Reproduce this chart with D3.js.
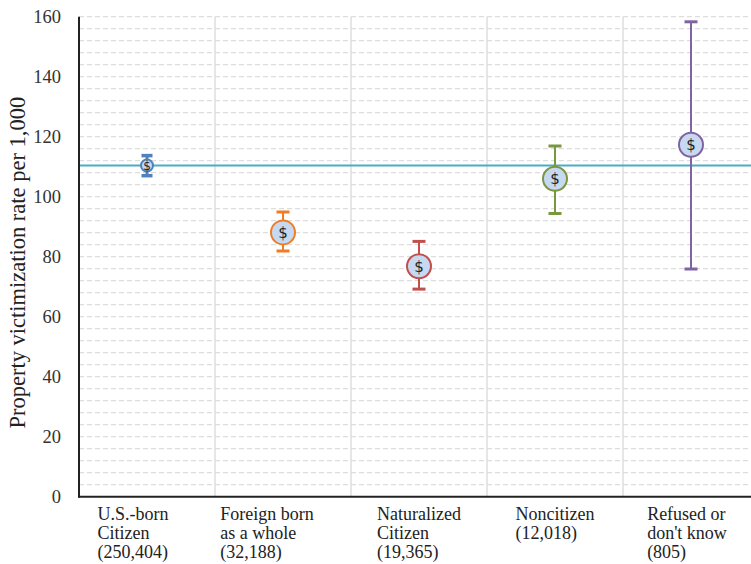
<!DOCTYPE html>
<html>
<head>
<meta charset="utf-8">
<script src="https://cdn.jsdelivr.net/npm/d3@7"></script>
<style>
  html, body { margin: 0; padding: 0; background: #fff; }
  svg { display: block; }
</style>
</head>
<body>
<svg id="chart" width="751" height="564"></svg>
<script>
// Groups (respondent citizenship status) with sample sizes
const categories = ["U.S.-born Citizen", "Foreign born as a whole", "Naturalized Citizen", "Noncitizen", "Refused or don't know"];
const labelLines = [
  ["U.S.-born", "Citizen", "(250,404)"],
  ["Foreign born", "as a whole", "(32,188)"],
  ["Naturalized", "Citizen", "(19,365)"],
  ["Noncitizen", "(12,018)"],
  ["Refused or", "don't know", "(805)"]
];
// Property victimization rate per 1,000 with confidence bounds
const rates = [110.4, 88.1, 76.8, 106.0, 117.3];
const lower = [107.0, 81.9, 69.2, 94.4, 75.9];
const upper = [113.7, 94.9, 85.1, 116.9, 158.3];
const colors = ["#4f81bd", "#ee7d28", "#c0504d", "#79973f", "#8064a2"];
// Reference line: U.S.-born rate
const referenceRate = 110.4;
const yTicks = [0, 20, 40, 60, 80, 100, 120, 140, 160];
const gridStep = 4;

(function draw() {
  const svg = d3.select("#chart");
  const plotLeft = 79, plotTop = 16.7, plotBottom = 496.7, plotRight = 759;
  const serif = "'Liberation Serif', 'Times New Roman', serif";

  const x = d3.scaleBand().domain(categories).range([plotLeft, plotRight]).paddingInner(0).paddingOuter(0);
  const y = d3.scaleLinear().domain([0, 160]).range([plotBottom, plotTop]);

  // Dashed horizontal gridlines every 4 units
  const gridVals = d3.range(gridStep, 160 + gridStep / 2, gridStep);
  svg.append("g").selectAll("line").data(gridVals).join("line")
    .attr("x1", plotLeft).attr("x2", plotRight)
    .attr("y1", d => y(d)).attr("y2", d => y(d))
    .attr("stroke", "#d6d6d6").attr("stroke-width", 1)
    .attr("stroke-dasharray", "5,3");

  // Vertical category separators
  svg.append("g").selectAll("line").data(categories.slice(1)).join("line")
    .attr("x1", d => x(d)).attr("x2", d => x(d))
    .attr("y1", y(160)).attr("y2", y(0))
    .attr("stroke", "#d9d9d9").attr("stroke-width", 1.3);

  // Reference line
  svg.append("line")
    .attr("x1", plotLeft).attr("x2", plotRight)
    .attr("y1", y(referenceRate)).attr("y2", y(referenceRate))
    .attr("stroke", "#4bacc6").attr("stroke-width", 2);

  // Axis lines
  svg.append("line").attr("x1", plotLeft).attr("x2", plotLeft).attr("y1", y(160)).attr("y2", y(0) + 1)
    .attr("stroke", "#222").attr("stroke-width", 2);
  svg.append("line").attr("x1", plotLeft - 1).attr("x2", plotRight).attr("y1", y(0)).attr("y2", y(0))
    .attr("stroke", "#222").attr("stroke-width", 2);

  // Y tick labels
  const yAxis = d3.axisLeft(y).tickValues(yTicks).tickSize(0).tickPadding(18);
  const gy = svg.append("g").attr("transform", `translate(${plotLeft},0)`).call(yAxis)
    .attr("font-family", serif).attr("font-size", 18.5);
  gy.select(".domain").remove();
  gy.selectAll("text")
    .attr("font-family", serif)
    .attr("font-size", 18.5).attr("fill", "#333");

  // Y axis title
  svg.append("text")
    .attr("transform", `translate(25,${(plotTop + plotBottom) / 2 + 6}) rotate(-90)`)
    .attr("text-anchor", "middle")
    .attr("font-family", serif)
    .attr("font-size", 22.5).attr("fill", "#222")
    .text("Property victimization rate per 1,000");

  // Category labels (left-aligned blocks under each group)
  const labelShift = [-14, -16, 0, 0, -4];
  const lg = svg.append("g").attr("font-family", serif)
    .attr("font-size", 18).attr("fill", "#222");
  categories.forEach((c, i) => {
    const t = lg.append("text").attr("y", 520);
    labelLines[i].forEach((line, j) => {
      t.append("tspan").attr("x", 0).attr("dy", j === 0 ? 0 : 19).text(line);
    });
    let w = 0;
    t.selectAll("tspan").each(function () { w = Math.max(w, this.getComputedTextLength()); });
    const cx = x(c) + x.bandwidth() / 2;
    t.selectAll("tspan").attr("x", cx - w / 2 + labelShift[i]);
  });

  // Error bars and markers
  const marks = svg.append("g");
  categories.forEach((c, i) => {
    const cx = x(c) + x.bandwidth() / 2;
    const small = i === 0;
    const g = marks.append("g").attr("stroke", colors[i]);
    g.append("line").attr("x1", cx).attr("x2", cx)
      .attr("y1", y(upper[i])).attr("y2", y(lower[i]))
      .attr("stroke-width", small ? 3 : 2);
    [upper[i], lower[i]].forEach(v => {
      g.append("line").attr("x1", cx - (small ? 5.5 : 6.5)).attr("x2", cx + (small ? 5.5 : 6.5))
        .attr("y1", y(v)).attr("y2", y(v))
        .attr("stroke-width", small ? 3.5 : 3);
    });
    g.append("circle").attr("cx", cx).attr("cy", y(rates[i]))
      .attr("r", small ? 6 : 12)
      .attr("fill", "#c6d9f1").attr("stroke-width", 2);
    marks.append("text").attr("x", cx).attr("y", y(rates[i]))
      .attr("dy", "0.36em")
      .attr("text-anchor", "middle")
      .attr("font-family", "'DejaVu Sans', sans-serif")
      .attr("font-size", small ? 12 : 15)
      .attr("fill", "#222")
      .text("$");
  });
})();
</script>
</body>
</html>
